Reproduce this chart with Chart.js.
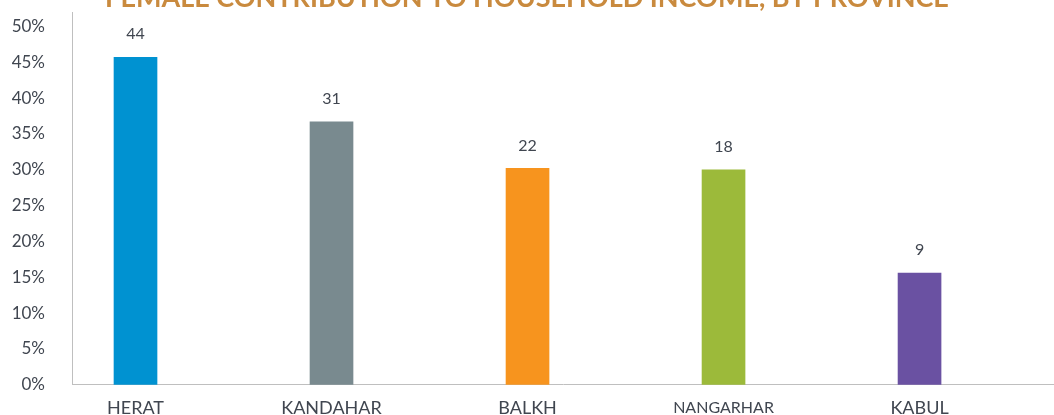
<!DOCTYPE html>
<html>
<head>
<meta charset="utf-8">
<script src="https://cdn.jsdelivr.net/npm/chart.js@4/dist/chart.umd.min.js"></script>
<style>
    html, body { margin: 0; padding: 0; background: #fff; overflow: hidden; }
    #wrap { position: absolute; left: 0; top: -25px; width: 1054px; height: 447px; }
</style>
</head>
<body>
<div id="wrap"><canvas id="incomeChart"></canvas></div>
<script>
var provinces = ['HERAT', 'KANDAHAR', 'BALKH', 'NANGARHAR', 'KABUL'];
var sharePct = [45.7, 36.7, 30.2, 30.0, 15.6];
var shareLabels = ['44', '31', '22', '18', '9'];
var barColors = ['#0092D1', '#798A8F', '#F7941E', '#9CBA3A', '#6A51A2'];
var yTicks = [0, 5, 10, 15, 20, 25, 30, 35, 40, 45, 50];

var TEXT_COLOR = '#404650';

// value labels above each bar
var barLabels = {
    id: 'barLabels',
    afterDatasetsDraw: function(chart) {
        var ctx = chart.ctx;
        var meta = chart.getDatasetMeta(0);
        ctx.save();
        ctx.font = '16px Lato, sans-serif';
        ctx.fillStyle = TEXT_COLOR;
        ctx.textAlign = 'center';
        ctx.textBaseline = 'middle';
        meta.data.forEach(function(bar, i) {
            ctx.fillText(shareLabels[i], bar.x, bar.y - 23);
        });
        ctx.restore();
    }
};

var points = provinces.map(function(p, i) { return { x: i, y: sharePct[i] }; });

new Chart(document.getElementById('incomeChart'), {
    type: 'bar',
    data: {
        datasets: [{
            data: points,
            backgroundColor: barColors,
            barThickness: 43,
            borderWidth: 0
        }]
    },
    options: {
        responsive: true,
        maintainAspectRatio: false,
        animation: false,
        layout: { padding: { left: 0, right: 0, top: 0, bottom: 0 } },
        plugins: {
            legend: { display: false },
            tooltip: { enabled: false },
            title: {
                display: true,
                text: 'FEMALE CONTRIBUTION TO HOUSEHOLD INCOME, BY PROVINCE',
                color: '#C98A3E',
                font: { family: 'Lato, sans-serif', size: 27, weight: 'bold', lineHeight: 1.0 },
                padding: { top: 0, bottom: 0 }
            }
        },
        scales: {
            x: {
                type: 'linear',
                offset: false,
                min: -0.324,
                max: 4.686,
                grid: { display: false, drawTicks: false },
                border: { display: true, color: '#BFBFBF', width: 1 },
                afterFit: function(scale) { scale.height = 30; },
                ticks: {
                    stepSize: 1,
                    includeBounds: false,
                    autoSkip: false,
                    maxRotation: 0,
                    padding: 13,
                    color: TEXT_COLOR,
                    font: function(c) {
                        var idx = c.tick ? c.tick.value : 0;
                        return { family: 'Lato, sans-serif', size: provinces[idx] === 'NANGARHAR' ? 16 : 18 };
                    },
                    callback: function(v) {
                        return Number.isInteger(v) && provinces[v] ? provinces[v] : '';
                    }
                }
            },
            y: {
                min: 0,
                max: 52,
                grid: { display: false, drawTicks: false },
                border: { display: true, color: '#BFBFBF', width: 1 },
                afterFit: function(scale) { scale.width = 72; },
                afterBuildTicks: function(scale) {
                    scale.ticks = yTicks.map(function(v) { return { value: v }; });
                },
                ticks: {
                    padding: 27,
                    color: TEXT_COLOR,
                    font: { family: 'Lato, sans-serif', size: 17 },
                    callback: function(v) { return v + '%'; }
                }
            }
        }
    },
    plugins: [barLabels]
});
</script>
</body>
</html>
